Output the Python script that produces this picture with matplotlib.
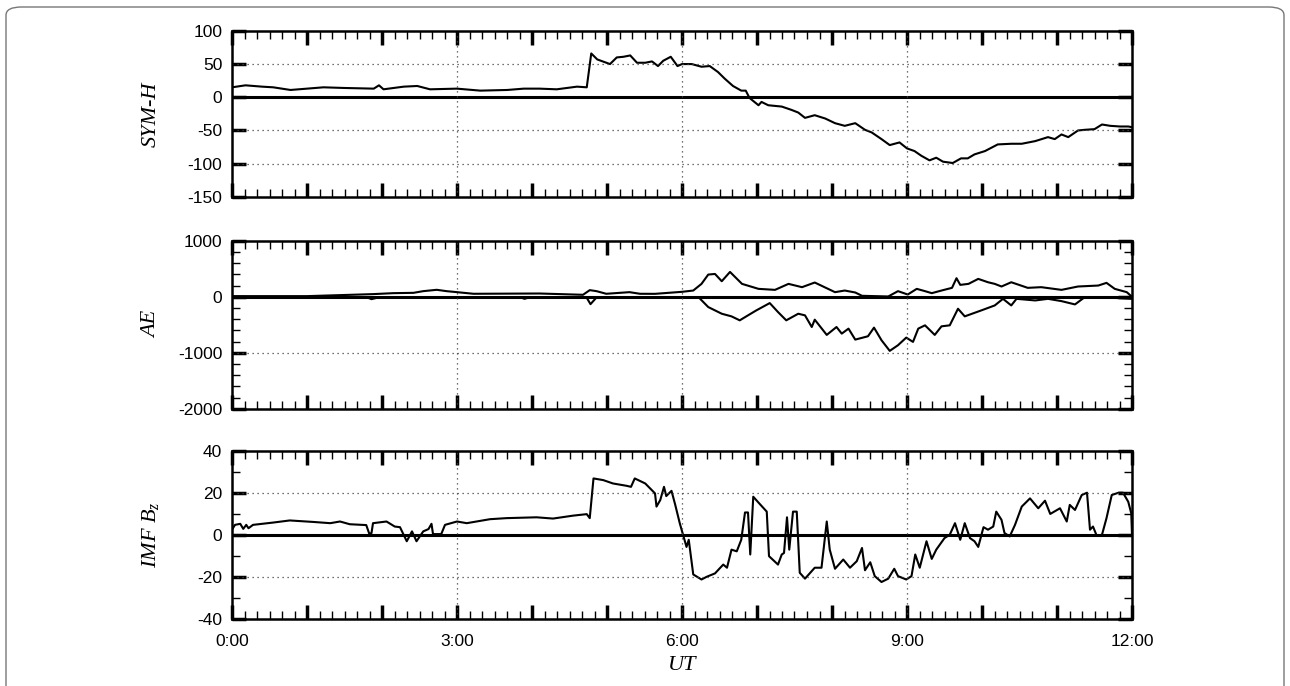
import matplotlib
matplotlib.use('Agg')
import matplotlib.pyplot as plt
from matplotlib.ticker import MultipleLocator, FuncFormatter
from matplotlib.patches import FancyBboxPatch

# SYM-H index (nT), time in hours UT
symh_t = [0.0, 0.18, 0.4, 0.55, 0.78, 1.0, 1.22, 1.5, 1.89, 1.96, 2.02, 2.29, 2.47, 2.64, 3.0,
          3.31, 3.67, 3.89, 4.1, 4.33, 4.6, 4.73, 4.79, 4.87, 5.04, 5.13, 5.22, 5.31, 5.4,
          5.51, 5.6, 5.68, 5.75, 5.85, 5.94, 6.0, 6.13, 6.26, 6.37, 6.48, 6.57, 6.68, 6.79,
          6.85, 6.9, 7.02, 7.06, 7.15, 7.33, 7.46, 7.55, 7.64, 7.77, 7.91, 8.04, 8.17, 8.31,
          8.44, 8.53, 8.66, 8.77, 8.9, 9.0, 9.1, 9.19, 9.3, 9.39, 9.48, 9.61, 9.72, 9.81,
          9.9, 10.04, 10.21, 10.39, 10.53, 10.71, 10.88, 10.97, 11.06, 11.15, 11.28, 11.37,
          11.5, 11.6, 11.71, 11.84, 11.95, 12.0]
symh_v = [15, 18, 16, 15, 11, 13, 15, 14, 13, 18, 12, 16, 17, 12, 13,
          10, 11, 13, 13, 12, 16, 15, 66, 57, 50, 60, 61, 63, 52,
          52, 54, 47, 55, 61, 47, 50, 50, 46, 47, 38, 28, 17, 10,
          10, -1, -12, -7, -12, -14, -19, -23, -31, -27, -32, -39, -43, -39,
          -49, -53, -63, -72, -68, -77, -81, -88, -95, -91, -97, -99, -92, -92,
          -86, -81, -71, -70, -70, -66, -60, -63, -56, -60, -50, -49,
          -48, -41, -43, -44, -44, -45]

# AU (upper) and AL (lower) auroral electrojet indices (nT)
au_t = [0.0, 1.0, 1.88, 2.15, 2.42, 2.55, 2.73, 2.86, 3.0, 3.22, 4.1, 4.68, 4.77, 4.86, 4.99,
        5.3, 5.44, 5.64, 6.0, 6.15, 6.26, 6.35, 6.44, 6.53, 6.64, 6.8, 7.02, 7.24, 7.42,
        7.6, 7.77, 8.04, 8.17, 8.31, 8.4, 8.75, 8.88, 9.01, 9.13, 9.24, 9.33, 9.46, 9.6,
        9.66, 9.71, 9.82, 9.95, 10.08, 10.17, 10.26, 10.39, 10.61, 10.79, 11.06, 11.28,
        11.55, 11.66, 11.77, 11.93, 12.0]
au_v = [12, 12, 48, 65, 71, 101, 125, 101, 83, 54, 59, 36, 119, 101, 54,
        83, 54, 53, 89, 112, 231, 397, 408, 278, 444, 231, 142, 124, 231,
        172, 255, 83, 112, 77, 18, 6, 101, 41, 142, 101, 65, 112, 160,
        332, 213, 231, 320, 260, 231, 184, 260, 160, 172, 124, 184,
        201, 249, 142, 83, 0]
al_t = [0.0, 1.0, 1.8, 1.86, 1.97, 3.0, 3.85, 3.9, 3.97, 4.73, 4.78, 4.86, 5.44, 6.0, 6.22,
        6.35, 6.53, 6.66, 6.77, 6.88, 6.99, 7.17, 7.28, 7.39, 7.55, 7.64, 7.73, 7.77, 7.93,
        8.06, 8.13, 8.22, 8.31, 8.48, 8.56, 8.66, 8.77, 8.88, 8.99, 9.08, 9.15, 9.24, 9.37,
        9.46, 9.57, 9.68, 9.77, 9.99, 10.17, 10.28, 10.39, 10.46, 10.71, 10.88, 11.06,
        11.24, 11.37, 11.7, 12.0]
al_v = [-8, -10, -10, -42, -5, -8, -10, -36, -8, -18, -131, -12, -12, -8, -6,
        -183, -302, -349, -420, -331, -243, -112, -272, -420, -302, -331, -539, -408, -680,
        -539, -657, -568, -764, -704, -550, -775, -965, -864, -728, -805, -568, -509, -680,
        -527, -509, -213, -349, -243, -154, -36, -154, -36, -65, -36, -77,
        -136, -6, -15, -36]

# IMF Bz (nT)
bz_t = [0.0, 0.04, 0.11, 0.15, 0.19, 0.22, 0.28, 0.55, 0.77, 1.08, 1.31, 1.44, 1.57, 1.79,
        1.83, 1.86, 1.88, 1.95, 2.06, 2.17, 2.24, 2.33, 2.4, 2.46, 2.55, 2.62, 2.66, 2.68,
        2.79, 2.84, 3.0, 3.13, 3.44, 3.66, 4.06, 4.28, 4.55, 4.73, 4.77, 4.82, 4.95, 5.08,
        5.26, 5.32, 5.37, 5.51, 5.64, 5.66, 5.71, 5.76, 5.79, 5.86, 5.91, 5.97, 6.02, 6.06,
        6.09, 6.15, 6.26, 6.33, 6.44, 6.55, 6.6, 6.66, 6.73, 6.79, 6.84, 6.88, 6.91, 6.95,
        7.02, 7.13, 7.16, 7.28, 7.33, 7.36, 7.4, 7.43, 7.48, 7.53, 7.57, 7.64, 7.77, 7.86,
        7.93, 7.97, 8.04, 8.15, 8.24, 8.33, 8.4, 8.44, 8.51, 8.57, 8.66, 8.75, 8.83, 8.88,
        8.99, 9.06, 9.11, 9.17, 9.26, 9.33, 9.39, 9.5, 9.57, 9.64, 9.71, 9.77, 9.84, 9.9,
        9.95, 10.02, 10.08, 10.15, 10.19, 10.26, 10.3, 10.37, 10.44, 10.53, 10.64, 10.75,
        10.84, 10.91, 11.04, 11.13, 11.17, 11.24, 11.33, 11.4, 11.44, 11.48, 11.53, 11.6,
        11.66, 11.73, 11.82, 11.88, 11.95, 11.99, 12.0]
bz_v = [2.4, 4.7, 5.2, 2.8, 4.7, 3.1, 4.7, 5.8, 6.8, 6.1, 5.5, 6.3, 5.0, 4.6,
        0.5, 0.8, 5.5, 5.8, 6.3, 3.9, 3.6, -3.1, 1.6, -3.1, 1.6, 2.7, 5.2, 0.3,
        0.3, 4.7, 6.3, 5.5, 7.4, 7.9, 8.3, 7.7, 9.1, 9.8, 7.9, 26.8, 26.0, 24.4,
        23.3, 22.8, 26.8, 24.4, 19.7, 13.4, 16.5, 22.8, 18.4, 20.9, 14.2, 5.5, -0.8, -5.8,
        -2.4, -18.9, -21.3, -20.0, -18.4, -14.2, -15.7, -7.1, -7.9, -2.4, 10.6, 10.6, -9.4, 18.1,
        15.3, 11.0, -10.2, -14.2, -9.4, -8.7, 8.3, -7.1, 11.0, 11.0, -18.1, -20.9, -15.7, -15.7,
        6.3, -7.1, -16.2, -11.8, -15.7, -12.6, -6.3, -16.9, -13.1, -19.7, -22.5, -20.9, -16.2, -19.7,
        -21.3, -19.7, -9.4, -15.7, -3.1, -11.5, -7.1, -1.6, 0.0, 5.5, -2.4, 5.5, -1.6, -3.1,
        -5.8, 3.6, 2.4, 3.9, 11.0, 7.1, 0.8, -0.8, 4.7, 13.4, 17.3, 12.6,
        16.2, 9.9, 12.6, 6.3, 14.2, 11.8, 18.9, 20.0, 2.4, 3.9, -0.5, 0.0,
        7.9, 18.9, 20.0, 20.0, 15.7, 10.2, 0.0]

x_labels = {0: '0:00', 3: '3:00', 6: '6:00', 9: '9:00', 12: '12:00'}
grid_hours = [3, 6, 9]

panels = [
    dict(series=[(symh_t, symh_v)], ylim=(-150, 100), major=50, minor=None,
         label='SYM-H', grid_y=[50, -50, -100]),
    dict(series=[(au_t, au_v), (al_t, al_v)], ylim=(-2000, 1000), major=1000, minor=200,
         label='AE', grid_y=[-1000]),
    dict(series=[(bz_t, bz_v)], ylim=(-40, 40), major=20, minor=10,
         label='IMF $B_z$', grid_y=[20, -20]),
]

plt.rcParams['font.family'] = ['Liberation Sans', 'DejaVu Sans']
plt.rcParams['axes.unicode_minus'] = False
plt.rcParams['mathtext.fontset'] = 'custom'
plt.rcParams['mathtext.it'] = 'Liberation Serif:italic'
plt.rcParams['mathtext.rm'] = 'Liberation Serif'

fig = plt.figure(figsize=(12.9, 6.86), dpi=100)

# rounded frame around the figure
frame = FancyBboxPatch((6 / 1290, -0.05), 1278 / 1290, 1.05 - 7 / 686,
                       boxstyle='round,pad=0,rounding_size=0.012',
                       transform=fig.transFigure, fill=False, ec='#777777', lw=1.0)
fig.patches.append(frame)

boxes = [(0.713, 0.955), (0.404, 0.649), (0.098, 0.343)]
left, right = 232 / 1290, 1132 / 1290
label_font = dict(family='Liberation Serif', style='italic', size=16)

axes = []
for (bot, top), p in zip(boxes, panels):
    ax = fig.add_axes([left, bot, right - left, top - bot])
    for t, v in p['series']:
        ax.plot(t, v, color='black', lw=1.5)
    ax.axhline(0, color='black', lw=2.2)
    for g in grid_hours:
        ax.axvline(g, color='#444444', lw=0.9, ls=(0, (1, 3)))
    for g in p['grid_y']:
        ax.axhline(g, color='#444444', lw=0.9, ls=(0, (1, 3)))
    ax.set_xlim(0, 12)
    ax.set_ylim(*p['ylim'])
    ax.xaxis.set_major_locator(MultipleLocator(1))
    ax.xaxis.set_minor_locator(MultipleLocator(1 / 6))
    ax.yaxis.set_major_locator(MultipleLocator(p['major']))
    if p['minor']:
        ax.yaxis.set_minor_locator(MultipleLocator(p['minor']))
    ax.tick_params(which='major', direction='in', length=10, width=2.5,
                   top=True, right=True, labelsize=12.5, pad=7)
    ax.tick_params(axis='x', which='major', pad=11)
    ax.tick_params(which='minor', direction='in', length=6, width=1,
                   top=True, right=True)
    ax.set_ylabel(p['label'], fontdict=label_font)
    ax.yaxis.set_label_coords(-0.079, 0.5)
    for s in ax.spines.values():
        s.set_linewidth(1.8)
    axes.append(ax)

for ax in axes[:-1]:
    ax.tick_params(labelbottom=False)
axes[-1].xaxis.set_major_formatter(
    FuncFormatter(lambda x, pos: x_labels.get(int(round(x)), '') if abs(x - round(x)) < 1e-6 else ''))
axes[-1].set_xlabel('UT', fontdict=label_font, labelpad=5)

fig.savefig('out.png', dpi=100)
